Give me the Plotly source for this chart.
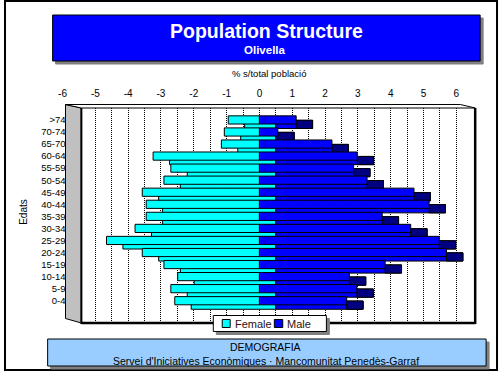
import plotly.graph_objects as go

# ---------------- data ----------------
AGE_GROUPS = [">74", "70-74", "65-70", "60-64", "55-59", "50-54", "45-49", "40-44",
              "35-39", "30-34", "25-29", "20-24", "15-19", "10-14", "5-9", "0-4"]
FEMALE = [0.95, 1.07, 1.16, 3.24, 2.70, 2.91, 3.57, 3.45,
          3.45, 3.79, 4.66, 3.57, 2.91, 2.49, 2.70, 2.58]
MALE = [1.12, 0.56, 2.21, 2.98, 2.87, 3.28, 4.71, 5.17,
        3.74, 4.61, 5.48, 5.70, 3.83, 2.74, 2.97, 2.66]
TICK_VALUES = [-6, -5, -4, -3, -2, -1, 0, 1, 2, 3, 4, 5, 6]
TICK_LABELS = ["-6", "-5", "-4", "-3", "-2", "-1", "0", "1", "2", "3", "4", "5", "6"]
GRID_VALUES = [-5, -4.5, -4, -3.5, -3, -2.5, -2, -1.5, -1, -0.5, 0, 0.5, 1, 1.5,
               2, 2.5, 3, 3.5, 4, 4.5, 5, 5.5, 6]

# ---------------- style ----------------
W, H = 499, 380
FONT = "Liberation Sans, Arial, sans-serif"
CYAN, BLUE, NAVY = "#00FFFF", "#0000FF", "#000080"
DEPTH_X = 0.5    # 3D depth along value axis (value units)
DEPTH_Y = 0.37   # 3D depth along category axis (category units)
BAR_W = 0.68


def px(x):
    return x / W


def py(y):
    return 1 - y / H


n = len(AGE_GROUPS)
depth_base = [DEPTH_X] * n
depth_len = [DEPTH_X] * n
neg_female = [-v for v in FEMALE]
line = dict(color="black", width=1)

common = dict(y=AGE_GROUPS, orientation="h", width=BAR_W, hoverinfo="skip", showlegend=False)
fig = go.Figure()
# back (depth) faces
fig.add_trace(go.Bar(x=neg_female, base=depth_base, offset=-BAR_W / 2 - DEPTH_Y,
                     marker=dict(color=CYAN, line=line), **common))
fig.add_trace(go.Bar(x=MALE, base=depth_base, offset=-BAR_W / 2 - DEPTH_Y,
                     marker=dict(color=BLUE, line=line), **common))
fig.add_trace(go.Bar(x=depth_len, base=MALE, offset=-BAR_W / 2 - DEPTH_Y,
                     marker=dict(color=NAVY, line=line), **common))
# front faces
fig.add_trace(go.Bar(x=neg_female, base=[0] * n, offset=-BAR_W / 2, name="Female",
                     marker=dict(color=CYAN, line=line), **common))
fig.add_trace(go.Bar(x=MALE, base=[0] * n, offset=-BAR_W / 2, name="Male",
                     marker=dict(color=BLUE, line=line), **common))

SCALE = 33.083  # px per unit
fig.update_layout(
    width=W, height=H, margin=dict(l=0, r=0, t=0, b=0),
    paper_bgcolor="white", plot_bgcolor="white",
    barmode="overlay", showlegend=False,
    font=dict(family=FONT, color="black"),
    xaxis=dict(domain=[px(59), px(475)], range=[-6, -6 + (475 - 59) / SCALE],
               side="top", tickmode="array", tickvals=TICK_VALUES, ticktext=TICK_LABELS,
               showgrid=False, zeroline=False, showline=False, ticks="",
               tickfont=dict(family=FONT, size=10, color="black"),
               ticklabelstandoff=8,
               minor=dict(tickmode="array", tickvals=GRID_VALUES, showgrid=True,
                          gridcolor="black", griddash="1px,1px", gridwidth=1),
               fixedrange=True),
    yaxis=dict(domain=[py(323), py(108)], type="category", categoryorder="array",
               categoryarray=list(reversed(AGE_GROUPS)), range=[-1.85, 15.99],
               anchor="free", position=px(62), ticks="inside", ticklen=6,
               tickcolor="black", tickwidth=1, showgrid=False, zeroline=False,
               showline=False, tickfont=dict(family=FONT, size=9.5, color="black"),
               fixedrange=True),
)

shapes = []


def rect(x0, y0, x1, y1, fill=None, lc="black", lw=1):
    shapes.append(dict(type="rect", xref="paper", yref="paper",
                       x0=px(x0), y0=py(y0), x1=px(x1), y1=py(y1),
                       fillcolor=fill if fill else "rgba(0,0,0,0)",
                       line=dict(color=lc, width=lw), layer="above"))


def poly(pts, fill, lc="black", lw=1):
    path = "M" + " L".join(f"{px(a)},{py(b)}" for a, b in pts) + " Z"
    shapes.append(dict(type="path", xref="paper", yref="paper", path=path,
                       fillcolor=fill, line=dict(color=lc, width=lw), layer="above"))


# outer border
rect(1, 1, 497, 370, lw=2)
# title box
rect(52, 18, 483, 64, fill="#808080", lc="#808080")
rect(49, 15, 480, 61, fill=BLUE, lw=1)
# 3D frame: side wall, top face, front frame
poly([(62, 104.5), (78, 108), (78, 323), (62, 318.5)], "#C0C0C0")
poly([(62, 104.5), (460, 104.5), (475, 108), (78, 108)], "white")
shapes.append(dict(type="line", xref="paper", yref="paper", x0=px(78), y0=py(323),
                   x1=px(475), y1=py(323), line=dict(color="black", width=2.5), layer="above"))
shapes.append(dict(type="line", xref="paper", yref="paper", x0=px(475), y0=py(108),
                   x1=px(475), y1=py(324), line=dict(color="black", width=2.5), layer="above"))
shapes.append(dict(type="line", xref="paper", yref="paper", x0=px(78), y0=py(108),
                   x1=px(78), y1=py(324), line=dict(color="black", width=2), layer="above"))
# legend box
rect(214, 318.5, 328, 334.5, fill="#808080", lc="#808080")
rect(211, 315.5, 325, 331.5, fill="white", lw=1)
rect(220, 319.5, 228, 327.5, fill=CYAN, lw=1)
rect(272.5, 319.5, 281, 327.5, fill=BLUE, lw=1)
# footer box
rect(47, 342, 489, 369, fill="#808080", lc="#808080")
rect(44, 339, 486, 366, fill="#99CCFF", lw=1)

annotations = [
    dict(text="<b>Population Structure</b>", x=px(265), y=py(31), font=dict(size=19.5, color="white")),
    dict(text="<b>Olivella</b>", x=px(263), y=py(50), font=dict(size=11.5, color="white")),
    dict(text="% s/total població", x=px(267), y=py(73), font=dict(size=9.5, color="black")),
    dict(text="Edats", x=px(20), y=py(212), textangle=-90, font=dict(size=10, color="black")),
    dict(text="Female", x=px(231), y=py(323.5), xanchor="left", font=dict(size=11, color="#301010")),
    dict(text="Male", x=px(283), y=py(323.5), xanchor="left", font=dict(size=11, color="#301010")),
    dict(text="DEMOGRAFIA", x=px(264), y=py(347), font=dict(size=10.5, color="black")),
    dict(text="Servei d'Iniciatives Econòmiques · Mancomunitat Penedès-Garraf",
         x=px(264), y=py(361), font=dict(size=10.5, color="black")),
]
for a in annotations:
    a.setdefault("xanchor", "center")
    a.update(xref="paper", yref="paper", showarrow=False, yanchor="middle")
    a["font"]["family"] = FONT

fig.update_layout(shapes=shapes, annotations=annotations)
fig.write_html("out.html",
               config={"displayModeBar": False, "staticPlot": True},
               post_script="document.body.style.margin='0';document.body.style.overflow='hidden';")
